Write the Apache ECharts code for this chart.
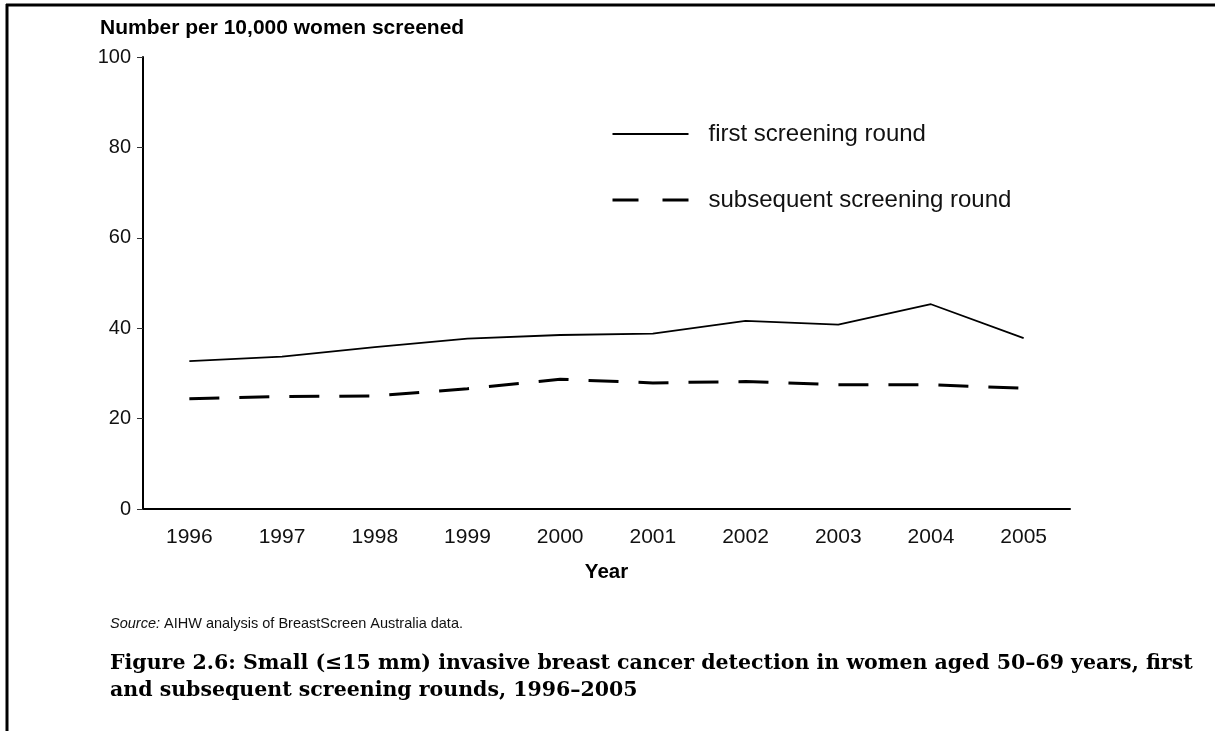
<!DOCTYPE html>
<html>
<head>
<meta charset="utf-8">
<script src="https://cdn.jsdelivr.net/npm/echarts@6/dist/echarts.min.js"></script>
<style>
html,body{margin:0;padding:0;background:#fff;}
#chart{width:1215px;height:731px;}
</style>
</head>
<body>
<div id="chart"></div>
<script>
const years = ['1996','1997','1998','1999','2000','2001','2002','2003','2004','2005'];
const firstRound = [32.7, 33.7, 35.8, 37.7, 38.5, 38.8, 41.6, 40.8, 45.3, 37.8];
const subsequentRound = [24.4, 24.9, 25.0, 26.6, 28.7, 27.9, 28.2, 27.5, 27.5, 26.7];
const yTicks = { min: 0, max: 100, interval: 20 };
const seriesNames = ['first screening round', 'subsequent screening round'];

const chart = echarts.init(document.getElementById('chart'), null, { renderer: 'canvas' });
const sans = 'Liberation Sans, Arial, sans-serif';
chart.setOption({
  backgroundColor: '#fff',
  animation: false,
  textStyle: { fontFamily: sans },
  title: [
    { text: 'Number per 10,000 women screened', left: 100, top: 18, padding: 0,
      textStyle: { fontFamily: sans, fontSize: 21, fontWeight: 'bold', color: '#000' } },
    { text: '{i|Source:} AIHW analysis of BreastScreen Australia data.', left: 110, top: 616, padding: 0,
      textStyle: { fontFamily: sans, fontSize: 14.5, fontWeight: 'normal', color: '#111',
        rich: { i: { fontFamily: sans, fontSize: 14.5, fontStyle: 'italic', color: '#111' } } } },
    { text: 'Figure 2.6: Small (≤15 mm) invasive breast cancer detection in women aged 50–69 years, first\nand subsequent screening rounds, 1996–2005',
      left: 110, top: 650, padding: 0,
      textStyle: { fontFamily: 'DejaVu Serif, serif', fontSize: 20.5, fontWeight: 'bold', color: '#000', lineHeight: 27 } }
  ],
  graphic: [
    { type: 'line', shape: { x1: 6, y1: 5, x2: 1215, y2: 5 }, style: { stroke: '#000', lineWidth: 3 } },
    { type: 'line', shape: { x1: 7, y1: 4, x2: 7, y2: 731 }, style: { stroke: '#000', lineWidth: 3 } }
  ],
  legend: {
    orient: 'vertical', left: 611, top: 122, itemWidth: 76, itemHeight: 24, itemGap: 42,
    padding: 0,
    data: [
      { name: seriesNames[0], lineStyle: { width: 1.8, type: 'solid' } },
      { name: seriesNames[1], lineStyle: { width: 3, type: [26, 24] } }
    ],
    itemStyle: { opacity: 0 },
    textStyle: { fontFamily: sans, fontSize: 24, color: '#111', padding: [0, 0, 0, 15] }
  },
  grid: { left: 143, right: 145, top: 57, bottom: 222, containLabel: false },
  xAxis: {
    type: 'category', data: years, boundaryGap: true,
    name: 'Year', nameLocation: 'middle', nameGap: 53,
    nameTextStyle: { fontFamily: sans, fontSize: 20.5, fontWeight: 'bold', color: '#000' },
    axisLine: { lineStyle: { color: '#000', width: 2 } },
    axisTick: { alignWithLabel: true, length: 11, lineStyle: { color: '#555', width: 1 } },
    axisLabel: { fontFamily: sans, fontSize: 21, color: '#111', margin: 18 },
    splitLine: { show: false }
  },
  yAxis: {
    type: 'value', min: yTicks.min, max: yTicks.max, interval: yTicks.interval,
    axisLine: { show: true, lineStyle: { color: '#000', width: 2 } },
    axisTick: { show: true, length: 6, lineStyle: { color: '#333', width: 1 } },
    axisLabel: { fontFamily: sans, fontSize: 20, color: '#111', margin: 12 },
    splitLine: { show: false }
  },
  series: [
    { name: seriesNames[0], type: 'line', data: firstRound, symbol: 'none', showSymbol: false,
      lineStyle: { color: '#000', width: 1.8, type: 'solid' }, itemStyle: { color: '#000' } },
    { name: seriesNames[1], type: 'line', data: subsequentRound, symbol: 'none', showSymbol: false,
      lineStyle: { color: '#000', width: 3, type: [30, 20] }, itemStyle: { color: '#000' } }
  ]
});
</script>
</body>
</html>
